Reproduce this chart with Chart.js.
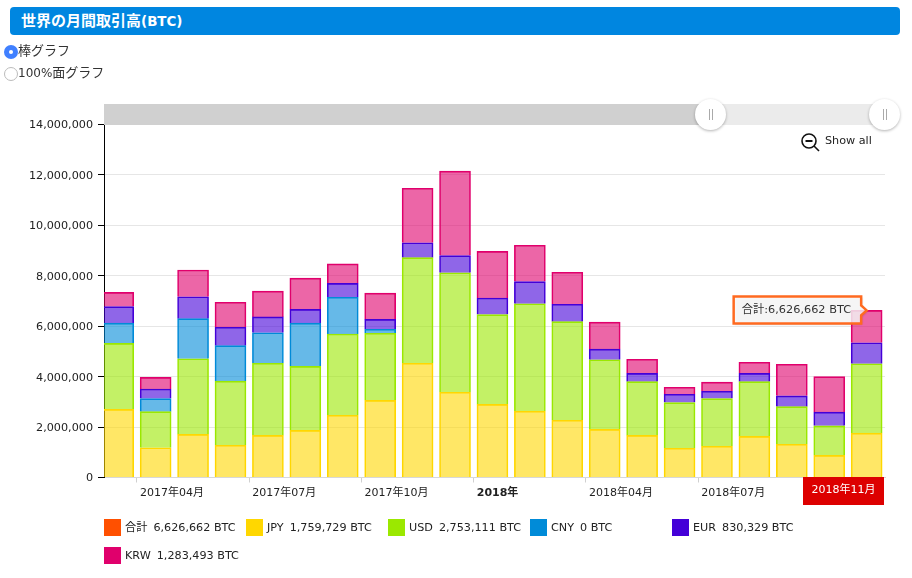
<!DOCTYPE html>
<html lang="ja"><head><meta charset="utf-8">
<script src="https://cdn.jsdelivr.net/npm/chart.js@4"></script>
<style>
html,body{margin:0;padding:0;background:#fff;width:912px;height:578px;overflow:hidden;font-family:"DejaVu Sans","Noto Sans CJK JP",sans-serif;color:#222}
#c{position:absolute;left:0;top:0;width:912px;height:578px}
.abs{position:absolute}
#title{left:10px;top:7px;width:890px;height:28px;background:#0086e0;border-radius:4px;color:#fff;font-weight:bold;font-size:15px;line-height:28px;text-indent:11px}
.radio{font-size:13px;line-height:18px;left:18px;color:#333}
.dot{box-sizing:border-box;border-radius:50%;width:14px;height:14px;left:4px}
.grip{top:99px;width:31px;height:31px;border-radius:50%;background:#fff;box-shadow:0 1px 3px rgba(0,0,0,.3)}
.grip:after{content:"";position:absolute;left:13.5px;top:10px;width:2px;height:11px;border-left:1px solid #aaa;border-right:1px solid #aaa}
.lg{font-size:11.2px;line-height:17px;white-space:pre;color:#222}
.lg span{margin-right:6px}
.sw{width:17px;height:17px}
</style></head><body>
<canvas id="c" width="912" height="578"></canvas>
<div id="title" class="abs">世界の月間取引高<span style="font-size:13.4px">(BTC)</span></div>
<div class="abs dot" style="top:45px;background:#4080ff"><div class="abs" style="left:5px;top:5px;width:4px;height:4px;border-radius:50%;background:#fff"></div></div>
<div class="abs radio" style="top:42px">棒グラフ</div>
<div class="abs dot" style="top:67px;border:1px solid #bbb;background:#fff"></div>
<div class="abs radio" style="top:64px"><span style="font-size:12px">100%</span>面グラフ</div>
<div class="abs" style="left:104px;top:104px;width:607px;height:21px;background:#d0d0d0"></div>
<div class="abs" style="left:711px;top:104px;width:174px;height:21px;background:#ebebeb"></div>
<div class="abs grip" style="left:695px"></div>
<div class="abs grip" style="left:869px"></div>
<svg class="abs" style="left:800px;top:132px" width="22" height="20" viewBox="0 0 22 20"><circle cx="9" cy="9" r="7" fill="none" stroke="#111" stroke-width="1.6"/><path d="M5.5 9h7" stroke="#111" stroke-width="2"/><path d="M14 14l5 5" stroke="#111" stroke-width="1.6"/></svg>
<div class="abs" style="left:825px;top:133px;font-size:11.2px;line-height:16px;color:#222">Show all</div>
<div id="legend"></div>
<script>
const months = ['2017-03','2017-04','2017-05','2017-06','2017-07','2017-08','2017-09','2017-10','2017-11','2017-12','2018-01','2018-02','2018-03','2018-04','2018-05','2018-06','2018-07','2018-08','2018-09','2018-10','2018-11'];
const jpy = [2705000,1180000,1710000,1280000,1670000,1870000,2470000,3060000,4530000,3380000,2900000,2630000,2270000,1910000,1670000,1160000,1240000,1630000,1320000,880000,1759729];
const usd = [2615000,1430000,3000000,2540000,2860000,2540000,3220000,2660000,4190000,4740000,3560000,4260000,3910000,2760000,2130000,1810000,1890000,2170000,1490000,1170000,2753111];
const cny = [800000,520000,1590000,1410000,1210000,1710000,1460000,160000,0,0,0,0,0,0,0,0,0,0,0,0,0];
const eur = [660000,380000,870000,730000,630000,550000,550000,390000,590000,680000,660000,880000,690000,420000,330000,330000,290000,330000,430000,540000,830329];
const krw = [560000,460000,1060000,990000,1020000,1240000,770000,1040000,2160000,3350000,1850000,1440000,1270000,1070000,560000,280000,360000,440000,1250000,1410000,1283493];
const xTickMonths = [1,4,7,10,13,16];
const xTickLabels = ['2017年04月','2017年07月','2017年10月','2018年','2018年04月','2018年07月'];
const legendNames = ['合計','JPY','USD','CNY','EUR','KRW'];
const legendValues = ['6,626,662','1,759,729','2,753,111','0','830,329','1,283,493'];
const legendColors = ['#ff5000','#ffd700','#9be800','#008bd8','#4400d8','#e0006c'];
const seriesData = [jpy,usd,cny,eur,krw];
const seriesColors = legendColors.slice(1);
const seriesNames = legendNames.slice(1);
const selectedLabel = '2018年11月';
const tipText = '合計:6,626,662 BTC';
const FONT = '"DejaVu Sans","Noto Sans CJK JP",sans-serif';

const lg = document.getElementById('legend');
legendNames.forEach((n,i)=>{
  const col = i%5, row = Math.floor(i/5);
  const x = 104+col*142, y = 519+row*28;
  lg.insertAdjacentHTML('beforeend',
    `<div class="abs sw" style="left:${x}px;top:${y}px;background:${legendColors[i]}"></div>`+
    `<div class="abs lg" style="left:${x+21}px;top:${y}px"><span>${n}</span>${legendValues[i]} BTC</div>`);
});

function hexA(h,a){const n=parseInt(h.slice(1),16);return `rgba(${n>>16},${(n>>8)&255},${n&255},${a})`;}

const overlay = {
  id:'overlay',
  afterDraw(ch){
    const {ctx,chartArea:a,scales:{x,y}} = ch;
    const last = months.length-1;
    const total = seriesData.reduce((s,d)=>s+d[last],0);
    const tipX = x.getPixelForValue(last), tipY = y.getPixelForValue(total);
    ctx.save();
    ctx.fillStyle='#dd0000';
    ctx.fillRect(803,a.bottom-0.5,81,28);
    ctx.fillStyle='#fff';
    ctx.font='11px '+FONT;ctx.textAlign='center';ctx.textBaseline='middle';
    ctx.fillText(selectedLabel,843.5,a.bottom+13);
    const L=tipX-133,R=tipX-5.5,T=tipY-14,B=tipY+13;
    ctx.beginPath();
    ctx.moveTo(L,T);ctx.lineTo(R,T);ctx.lineTo(R,tipY-5);ctx.lineTo(tipX,tipY);ctx.lineTo(R,tipY+5);ctx.lineTo(R,B);ctx.lineTo(L,B);ctx.closePath();
    ctx.shadowColor='rgba(0,0,0,.25)';ctx.shadowBlur=2;ctx.shadowOffsetX=1;ctx.shadowOffsetY=1;
    ctx.fillStyle='rgba(255,255,255,.8)';ctx.fill();
    ctx.shadowColor='transparent';
    ctx.lineWidth=2.5;ctx.strokeStyle='#ff6a20';ctx.stroke();
    ctx.fillStyle='#333';ctx.textAlign='left';
    ctx.font='11.3px '+FONT;
    ctx.fillText(tipText,L+8,tipY);
    ctx.restore();
  }
};

new Chart(document.getElementById('c'),{
  type:'bar',
  data:{datasets:seriesData.map((d,i)=>({
    label:seriesNames[i],
    data:d.map((v,k)=>({x:k,y:v})),
    backgroundColor:hexA(seriesColors[i],0.6),
    borderColor:seriesColors[i],
    borderWidth:1,
    barThickness:31
  }))},
  options:{
    responsive:false,animation:false,
    layout:{padding:{left:0,right:27,top:124.5,bottom:0}},
    plugins:{legend:{display:false},tooltip:{enabled:false}},
    scales:{
      x:{type:'linear',stacked:true,offset:false,min:-0.38,max:20.49,
        afterFit(s){s.height=100.5;},
        afterBuildTicks(s){s.ticks=xTickMonths.map(m=>({value:m-0.5}));},
        border:{color:'#d8d8d8'},
        grid:{offset:false,drawOnChartArea:false,tickLength:5,tickColor:'#d0d0d0',color:'#d0d0d0'},
        ticks:{autoSkip:false,maxRotation:0,minRotation:0,align:'start',labelOffset:3,padding:4,color:'#222',
          callback:(v,i)=>xTickLabels[i],
          font:c=>({family:FONT,size:11,weight:xTickLabels[c.index]==='2018年'?'bold':'normal'})}
      },
      y:{stacked:true,min:0,max:14000000,
        afterFit(s){s.width=104;},
        border:{color:'#000'},
        grid:{color:'#e6e6e6',tickColor:'#000',tickLength:6},
        ticks:{stepSize:2000000,padding:5,labelOffset:1,color:'#222',font:{family:FONT,size:11.2},
          callback:v=>v.toLocaleString('en-US')}
      }
    }
  },
  plugins:[overlay]
});
</script>
</body></html>
